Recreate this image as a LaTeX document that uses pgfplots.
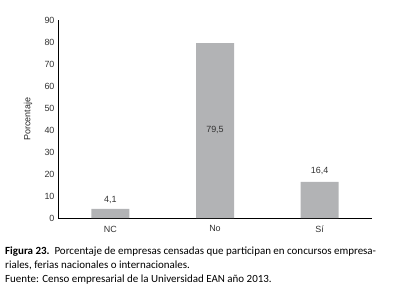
\documentclass[border=0pt]{standalone}
\usepackage{pgfplots}
\pgfplotsset{compat=1.18}
\usepackage{fontspec}
\setmainfont{Liberation Sans}
\newfontfamily\capfont{Carlito}
\definecolor{bargray}{RGB}{178,179,181}
\begin{document}
\begin{tikzpicture}
\path[use as bounding box] (-58bp,-73bp) rectangle (340bp,218bp);
\begin{axis}[
  at={(0,0)}, anchor=south west,
  scale only axis,
  width=314bp, height=198bp,
  xmin=-0.5, xmax=2.5,
  ymin=0, ymax=90,
  axis lines*=left,
  axis line style={line width=0.8pt, -},
  xtick=data,
  xticklabels={NC,No,Sí},
  ytick={0,10,...,90},
  tick style={draw=none},
  tick label style={font=\fontsize{9}{10}\selectfont, text=black!80},
  /pgf/number format/assume math mode=true,
  ylabel={Porcentaje},
  ylabel style={font=\fontsize{9}{10}\selectfont, text=black!85, at={(axis description cs:-0.095,0.5)}, anchor=center},
  ybar, bar width=38bp,
  clip=false,
]
\addplot[fill=bargray, draw=none] coordinates {(0,4.1) (1,79.5) (2,16.4)};
\node[font=\fontsize{9}{10}\selectfont, text=black!80] at (axis cs:0,8.4) {4,1};
\node[font=\fontsize{9}{10}\selectfont, text=black!80] at (axis cs:1,40) {79,5};
\node[font=\fontsize{9}{10}\selectfont, text=black!80] at (axis cs:2,21.6) {16,4};
\end{axis}
\node[anchor=north west, align=left, inner sep=0pt, font=\capfont\fontsize{11}{14}\selectfont] at (-53bp,-29bp)
{\textbf{Figura 23.}\ \ Porcentaje de empresas censadas que participan en concursos empresa-\\
riales, ferias nacionales o internacionales.\\
Fuente: Censo empresarial de la Universidad EAN año 2013.};
\end{tikzpicture}
\end{document}
